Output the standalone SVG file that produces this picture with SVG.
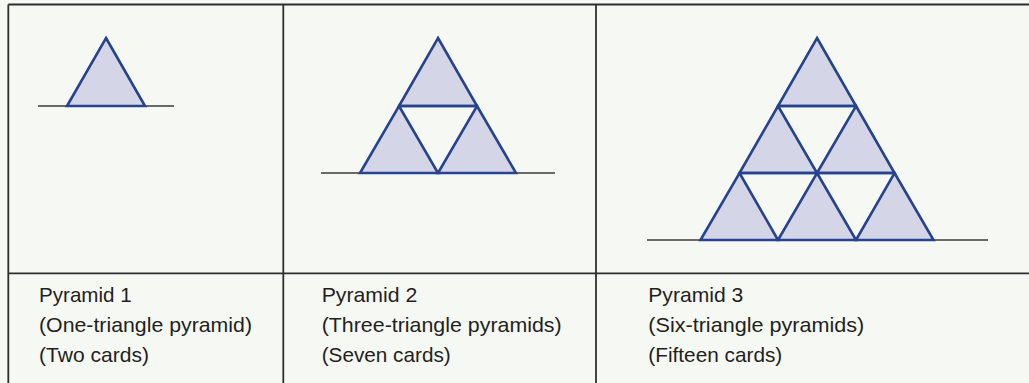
<svg xmlns="http://www.w3.org/2000/svg" width="1029" height="383" viewBox="0 0 1029 383">
<style>
.grid{stroke:#2e2e2e;stroke-width:1.8;fill:none}
.base{stroke:#3a3a3a;stroke-width:1.5;fill:none}
.tri{fill:#d4d6e7;stroke:#27438f;stroke-width:2.6;stroke-linejoin:miter}
.edge{stroke:#27438f;stroke-width:2.6;fill:none}
.lbl{font-family:"Liberation Sans",Arial,sans-serif;font-size:21px;fill:#231f20}
</style>
<rect x="0" y="0" width="1029" height="383" fill="#f6f8f4"/>
<g id="table">
<line class="grid" x1="8.3" y1="4.5" x2="1029" y2="4.5"/>
<line class="grid" x1="8.3" y1="4.5" x2="8.3" y2="383"/>
<line class="grid" x1="283.3" y1="4.5" x2="283.3" y2="383"/>
<line class="grid" x1="596" y1="4.5" x2="596" y2="383"/>
<line class="grid" x1="8.3" y1="273.3" x2="1029" y2="273.3"/>
</g>
<g id="pyramid1">
<line class="base" x1="38" y1="106" x2="174" y2="106"/>
<polygon class="tri" points="106,38 145,106 67,106"/>
</g>
<g id="pyramid2">
<line class="base" x1="321" y1="173" x2="555" y2="173"/>
<polygon class="tri" points="438,38 477,106 399,106"/>
<polygon class="tri" points="399,106 438,173 360,173"/>
<polygon class="tri" points="477,106 516,173 438,173"/>
<line class="edge" x1="399" y1="106" x2="477" y2="106"/>
</g>
<g id="pyramid3">
<line class="base" x1="647" y1="240" x2="988" y2="240"/>
<polygon class="tri" points="817,38 856,106 778,106"/>
<polygon class="tri" points="778,106 817,173 739.5,173"/>
<polygon class="tri" points="856,106 894.5,173 817,173"/>
<polygon class="tri" points="739.5,173 778,240 700.5,240"/>
<polygon class="tri" points="817,173 856,240 778,240"/>
<polygon class="tri" points="894.5,173 933.5,240 856,240"/>
<line class="edge" x1="778" y1="106" x2="856" y2="106"/>
<line class="edge" x1="739.5" y1="173" x2="894.5" y2="173"/>
</g>
<g id="label1">
<text class="lbl" x="39" y="301.5" textLength="92.7" lengthAdjust="spacingAndGlyphs">Pyramid 1</text>
<text class="lbl" x="39" y="332" textLength="213" lengthAdjust="spacingAndGlyphs">(One-triangle pyramid)</text>
<text class="lbl" x="39" y="362" textLength="110" lengthAdjust="spacingAndGlyphs">(Two cards)</text>
</g>
<g id="label2">
<text class="lbl" x="321.7" y="301.5" textLength="95.6" lengthAdjust="spacingAndGlyphs">Pyramid 2</text>
<text class="lbl" x="321.7" y="332" textLength="240" lengthAdjust="spacingAndGlyphs">(Three-triangle pyramids)</text>
<text class="lbl" x="321.7" y="362" textLength="129" lengthAdjust="spacingAndGlyphs">(Seven cards)</text>
</g>
<g id="label3">
<text class="lbl" x="648.3" y="301.5" textLength="95" lengthAdjust="spacingAndGlyphs">Pyramid 3</text>
<text class="lbl" x="648.3" y="332" textLength="216" lengthAdjust="spacingAndGlyphs">(Six-triangle pyramids)</text>
<text class="lbl" x="648.3" y="362" textLength="134" lengthAdjust="spacingAndGlyphs">(Fifteen cards)</text>
</g>
</svg>
